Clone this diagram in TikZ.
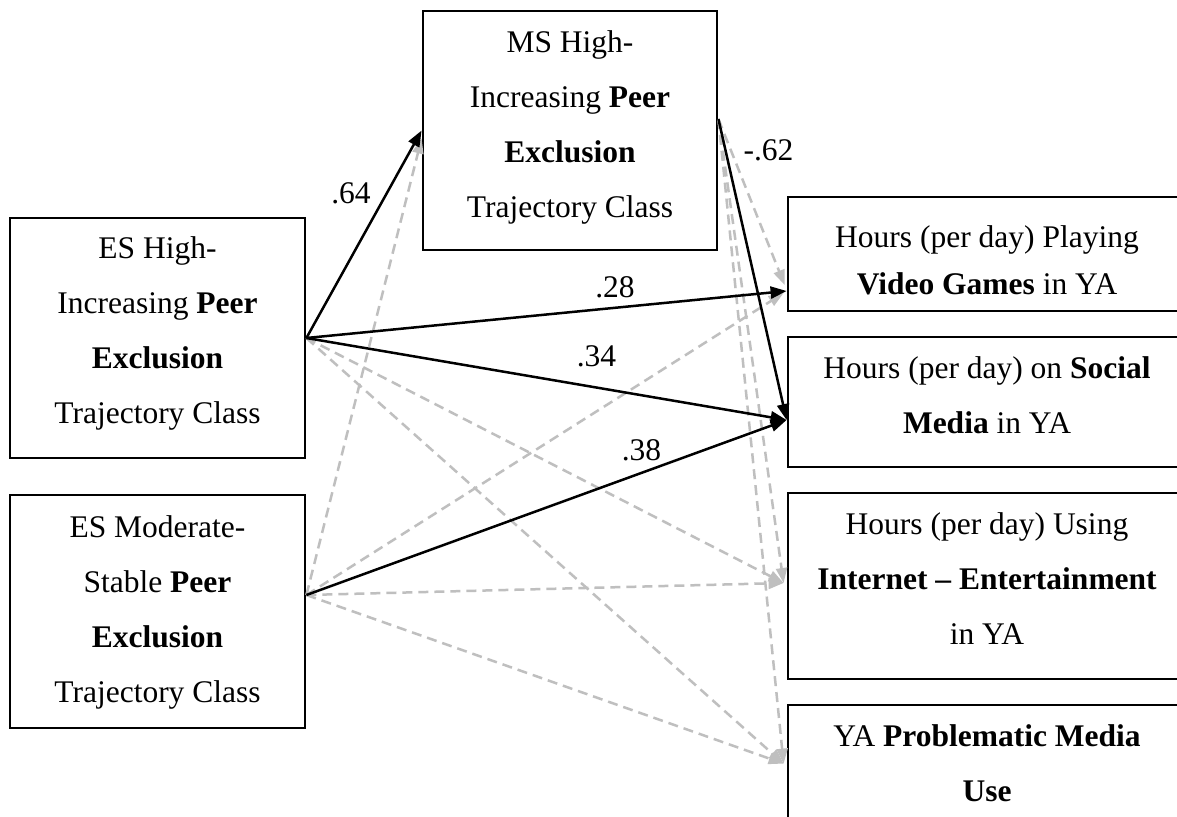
\documentclass[tikz,border=0pt]{standalone}
\usepackage{fontspec}
\setmainfont{Liberation Serif}
\usetikzlibrary{arrows.meta,calc}
\definecolor{pathgray}{HTML}{BFBFBF}
\begin{document}
\begin{tikzpicture}[x=1pt,y=-1pt,
  box/.style={draw=black,line width=2.8pt,rectangle,inner sep=0pt},
  txt/.style={font=\fontsize{31.5}{55}\selectfont,align=center,anchor=base,inner sep=0pt},
  txtnarrow/.style={txt,font=\fontsize{31.5}{46.5}\selectfont},
  coef/.style={font=\fontsize{31.5}{36}\selectfont,anchor=base,inner sep=0pt},
  sigpath/.style={draw=black,line width=2.5pt,-{Triangle[length=16pt,width=12pt]}},
  nspath/.style={draw=pathgray,line width=2.5pt,dash pattern=on 10pt off 6pt,
    -{Triangle[length=15pt,width=11pt]}}]

\fill[white] (0,0) rectangle (1177,816);
\useasboundingbox (0,0) rectangle (1177,816);

% predictor and mediator boxes
\node[box,minimum width=294pt,minimum height=239pt] (ms)  at (570,130.5) {};
\node[box,minimum width=295pt,minimum height=240pt] (esh) at (157.5,338) {};
\node[box,minimum width=295pt,minimum height=233pt] (esm) at (157.5,611.5) {};

% outcome boxes (run past the right edge)
\node[box,minimum width=398pt,minimum height=114pt] (vg) at (987,254) {};
\node[box,minimum width=398pt,minimum height=130pt] (sm) at (987,402) {};
\node[box,minimum width=398pt,minimum height=186pt] (ie) at (987,586) {};
\node[box,minimum width=398pt,minimum height=160pt] (pm) at (987,785) {};

% box texts (anchored on the baseline of the last line)
\node[txt] (msT)  at (570,217)   {MS High-\\Increasing \textbf{Peer}\\\textbf{Exclusion}\\Trajectory Class};
\node[txt] (eshT) at (157.5,423) {ES High-\\Increasing \textbf{Peer}\\\textbf{Exclusion}\\Trajectory Class};
\node[txt] (esmT) at (157.5,702) {ES Moderate-\\Stable \textbf{Peer}\\\textbf{Exclusion}\\Trajectory Class};
\node[txtnarrow] (vgT) at (987,294) {Hours (per day) Playing\\\textbf{Video Games} in YA};
\node[txt] (smT) at (987,433) {Hours (per day) on \textbf{Social}\\\textbf{Media} in YA};
\node[txt] (ieT) at (987,644) {Hours (per day) Using\\\textbf{Internet -- Entertainment}\\in YA};
\node[txt] (pmT) at (987,801) {YA \textbf{Problematic Media}\\\textbf{Use}};

% connection ports
\coordinate (eshOut) at (esh.east);
\coordinate (esmOut) at ($(esm.east)+(0,-16.5)$);
\coordinate (msOut)  at ($(ms.east)+(0,-11.5)$);
\coordinate (msIn)   at (ms.west);
\coordinate (msIn2)  at ($(ms.west)+(0,8)$);
\coordinate (vgIn)   at ($(vg.west)+(0,37)$);
\coordinate (vgIn2)  at ($(vg.west)+(-2,31)$);
\coordinate (vgIn3)  at ($(vg.west)+(-3,39)$);
\coordinate (smIn)   at ($(sm.west)+(0,18)$);
\coordinate (ieIn)   at ($(ie.west)+(-3,-3)$);
\coordinate (pmIn)   at ($(pm.north west)+(-3,60)$);

% non-significant paths
\draw[nspath] (esmOut) -- (msIn2);
\draw[nspath] (esmOut) -- (vgIn3);
\draw[nspath] (esmOut) -- (ieIn);
\draw[nspath] (esmOut) -- (pmIn);
\draw[nspath] (eshOut) -- (ieIn);
\draw[nspath] (eshOut) -- (pmIn);
\draw[nspath] (msOut) -- (vgIn2);
\draw[nspath] (msOut) -- (ieIn);
\draw[nspath] (msOut) -- (pmIn);

% significant paths
\draw[sigpath] (eshOut) -- (msIn);
\draw[sigpath] (eshOut) -- (vgIn);
\draw[sigpath] (eshOut) -- (smIn);
\draw[sigpath] (esmOut) -- (smIn);
\draw[sigpath] (msOut) -- (smIn);

% path coefficients
\node[coef] (c64) at (351,203)   {.64};
\node[coef] (c28) at (615,297)   {.28};
\node[coef] (c34) at (596.5,366) {.34};
\node[coef] (c38) at (641.5,460) {.38};
\node[coef] (c62) at (768.5,160) {-.62};
\end{tikzpicture}
\end{document}
